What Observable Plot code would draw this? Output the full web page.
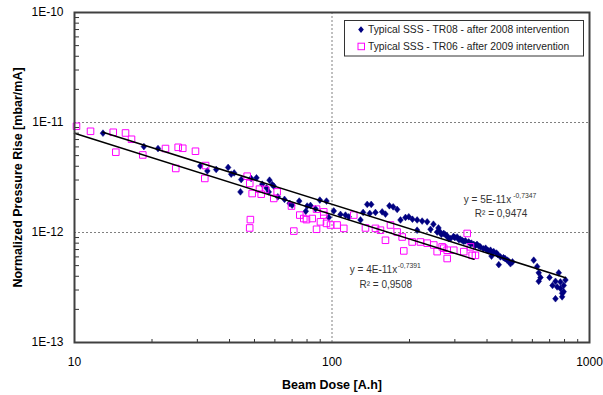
<!DOCTYPE html>
<html><head><meta charset="utf-8">
<script src="https://cdn.jsdelivr.net/npm/d3@7"></script>
<script src="https://cdn.jsdelivr.net/npm/@observablehq/plot@0.6"></script>
<style>
body{margin:0;background:#fff;}
#chart{position:relative;width:603px;height:395px;background:#fff;}
</style>
</head><body><div id="chart"></div>
<script>
// Beam dose [A.h]; normalized pressure rise in units of 1E-12 mbar/mA
const tr08X = [12.9,18.6,21.1,30.8,32.8,35.5,39.5,40.6,41.7,44.1,44.4,48.5,50.9,53.6,55.7,57.2,58.6,59.4,56.8,61.6,65.4,68.5,70.0,74.6,79.1,80.1,82.5,86.3,89.7,95.2,97.2,101.6,107.9,112.8,116.2,129.0,132.1,137.0,142.0,140.2,147.5,156.6,161.3,167.1,172.8,179.1,184.5,192.9,198.7,205.3,214.1,223.9,234.2,214.1,241.3,247.7,259.1,256.1,271.6,280.1,284.1,288.4,296.4,306.2,311.2,320.2,329.8,339.6,348.0,355.2,365.6,377.2,387.4,400.6,412.6,416.4,424.8,435.4,451.1,444.3,463.4,478.8,493.2,502.2,607.3,626.1,635.1,635.1,645.1,699.5,718.4,737.7,759.8,749.0,771.0,771.0,783.0,794.0,806.5,794.3,737.7,783.0,262,266,276,300,315,325,345,360,372,395,405,420,440,470,485];
const tr08Y = [8.0,6.04,5.80,4.03,3.63,3.74,3.90,3.39,3.48,2.34,3.03,3.10,3.14,2.75,2.54,2.99,2.73,2.64,2.34,2.11,2.00,1.84,1.77,1.93,1.56,1.74,1.76,1.64,1.97,1.93,1.37,1.57,1.46,1.44,1.39,1.30,1.52,1.80,1.80,1.49,1.52,1.54,1.47,1.75,1.71,1.62,1.30,1.37,1.39,1.32,1.30,1.27,1.25,1.05,1.07,1.19,1.10,1.01,0.98,0.93,0.88,0.88,0.92,0.91,0.86,0.85,0.84,0.82,0.80,0.78,0.78,0.74,0.71,0.69,0.69,0.61,0.67,0.65,0.60,0.51,0.59,0.56,0.52,0.54,0.56,0.49,0.43,0.36,0.39,0.39,0.33,0.36,0.43,0.32,0.31,0.355,0.28,0.29,0.37,0.33,0.25,0.26,1.02,0.96,0.95,0.90,0.87,0.83,0.79,0.76,0.75,0.72,0.68,0.66,0.63,0.58,0.55];
const tr06X = [10.18,11.54,14.14,15.78,16.65,14.47,18.42,22.56,25.27,26.33,29.5,24.73,32.3,32.06,46.83,47.93,48.98,52.28,53.09,55.17,59.4,61.24,69.6,74.97,77.7,79.6,83.8,87.1,90.2,92.9,92.9,95.2,48.2,47.9,71.07,87.1,98.7,104.7,111.1,121.5,134.9,147.5,154.2,161.3,168.7,179.1,187.3,190.0,204.8,220.5,234.2,248.5,256.1,267.8,280.1,271.6,280.1,297.1,324.9,344.9,350.2,360.6,335.0];
const tr06Y = [9.24,8.32,8.15,8.03,7.04,5.37,5.07,5.80,5.95,5.83,5.48,3.82,4.06,3.10,3.25,2.79,2.26,2.48,2.23,2.46,2.04,2.34,1.74,1.44,1.34,1.31,1.34,1.63,1.25,1.44,1.54,1.21,1.31,1.10,1.03,1.07,1.17,1.17,1.09,1.44,1.10,1.09,1.05,0.85,1.17,1.01,0.91,0.68,0.82,0.82,0.80,0.77,0.67,0.74,0.69,0.72,0.58,0.69,0.67,0.74,0.62,0.62,0.98];
// Power-law trendline end points
const fit08X = [12.9, 807];
const fit08Y = [8.15, 0.388];
const fit06X = [10, 356];
const fit06Y = [7.98, 0.570];
const xMajor = [10, 100, 1000];
const xMinor = [20,30,40,50,60,70,80,90,200,300,400,500,600,700,800,900];
const yMajor = [1e-13, 1e-12, 1e-11, 1e-10];
const yMinor = [];
for (const e of [-13,-12,-11]) for (const m of [2,3,4,5,6,7,8,9]) yMinor.push(m * Math.pow(10, e));
const legendLabels = ["Typical SSS - TR08 - after 2008 intervention", "Typical SSS - TR06 - after 2009 intervention"];
const eq08 = ["y = 5E-11x", "-0,7347", "R² = 0,9474"];
const eq06 = ["y = 4E-11x", "-0,7391", "R² = 0,9508"];

const tr08 = tr08X.map((x, i) => ({x, y: tr08Y[i] * 1e-12}));
const tr06 = tr06X.map((x, i) => ({x, y: tr06Y[i] * 1e-12}));
const fit08 = fit08X.map((x, i) => ({x, y: fit08Y[i] * 1e-12}));
const fit06 = fit06X.map((x, i) => ({x, y: fit06Y[i] * 1e-12}));

const diamond = {draw(ctx, size) {
  const r = Math.sqrt(size / Math.PI);
  ctx.moveTo(0, -r * 1.25); ctx.lineTo(r * 1.05, 0); ctx.lineTo(0, r * 1.25); ctx.lineTo(-r * 1.05, 0); ctx.closePath();
}};
const navy = "#000080", magenta = "#ff00ff";
const txt = (s, dx, dy, fs) => Plot.text([s], {frameAnchor: "top-left", dx, dy, textAnchor: "start", lineAnchor: "middle", fontSize: fs, fill: "#333"});

const chart = Plot.plot({
  width: 603, height: 395,
  marginLeft: 74, marginRight: 14, marginTop: 12, marginBottom: 53,
  style: {fontFamily: "'Liberation Sans', Arial, sans-serif", background: "#fff", overflow: "visible"},
  x: {type: "log", domain: [10, 1000]},
  y: {type: "log", domain: [1e-13, 1e-10]},
  marks: [
    Plot.ruleY([1e-11, 1e-12], {stroke: "#808080", strokeDasharray: "2,2"}),
    Plot.ruleX([100], {stroke: "#808080", strokeDasharray: "2,2"}),
    Plot.dot(tr08, {x: "x", y: "y", symbol: diamond, r: 2.7, fill: navy, stroke: navy, strokeWidth: 0.5}),
    Plot.dot(tr06, {x: "x", y: "y", symbol: "square", r: 3.7, fill: "none", stroke: magenta, strokeWidth: 1}),
    Plot.line(fit08, {x: "x", y: "y", stroke: "#000", strokeWidth: 1.5}),
    Plot.line(fit06, {x: "x", y: "y", stroke: "#000", strokeWidth: 1.5}),
    Plot.axisX({ticks: xMinor, anchor: "top", frameAnchor: "bottom", tickSize: 4, tickFormat: () => "", label: null, stroke: "#333"}),
    Plot.axisY({ticks: yMinor, anchor: "right", frameAnchor: "left", tickSize: 4, tickFormat: () => "", label: null, stroke: "#333"}),
    Plot.axisX({ticks: xMajor, tickSize: 0, tickPadding: 15, tickFormat: d => String(d), fontSize: 12, label: null, fill: "#000"}),
    Plot.axisY({ticks: yMajor, tickSize: 0, tickPadding: 11, tickFormat: d => "1E" + Math.round(Math.log10(d)), fontSize: 12, label: null, fill: "#000"}),
    Plot.frame({stroke: "#404040", strokeWidth: 2}),
    Plot.text(["Normalized Pressure Rise [mbar/mA]"], {frameAnchor: "left", dx: -56.5, rotate: -90, textAnchor: "middle", lineAnchor: "middle", fontWeight: "bold", fontSize: 12.5, fill: "#000"}),
    Plot.text(["Beam Dose [A.h]"], {frameAnchor: "bottom", dy: 42.5, textAnchor: "middle", lineAnchor: "middle", fontWeight: "bold", fontSize: 12.5, fill: "#000"}),
    txt(eq08[0], 389.3, 187.3, 10), txt(eq08[1], 438.7, 183, 6.8), txt(eq08[2], 400.3, 201.3, 10),
    txt(eq06[0], 275.3, 257, 10), txt(eq06[1], 323.3, 253.3, 6.8), txt(eq06[2], 285, 272, 10)
  ]
});
document.getElementById("chart").appendChild(chart);

// Legend box
const svg = d3.select(chart);
const lg = svg.append("g").attr("font-family", "'Liberation Sans', Arial, sans-serif").attr("text-anchor", "start");
lg.append("rect").attr("x", 344.5).attr("y", 20.5).attr("width", 239).attr("height", 35.5).attr("fill", "#fff").attr("stroke", "#333").attr("stroke-width", 1);
lg.append("path").attr("transform", "translate(361,29.5)").attr("d", d3.symbol(diamond, Math.PI * 2.7 * 2.7)()).attr("fill", navy);
lg.append("rect").attr("x", 358).attr("y", 43.2).attr("width", 6.5).attr("height", 6.5).attr("fill", "none").attr("stroke", magenta);
legendLabels.forEach((s, i) => {
  lg.append("text").attr("x", 368).attr("y", 29.5 + i * 17).attr("dy", "0.35em").attr("text-anchor", "start").attr("font-size", 10.3).attr("fill", "#222").text(s);
});
</script>
</body></html>
